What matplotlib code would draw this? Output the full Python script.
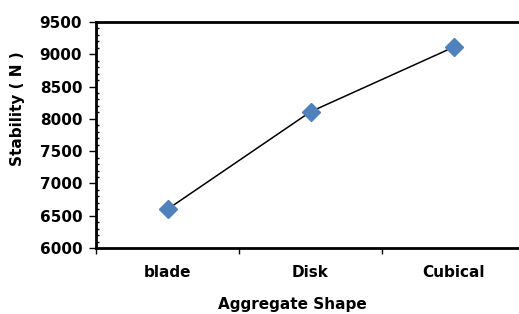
import matplotlib.pyplot as plt
from matplotlib.ticker import MultipleLocator

shapes = ["blade", "Disk", "Cubical"]
stability = [6600, 8110, 9110]
y_ticks = [6000, 6500, 7000, 7500, 8000, 8500, 9000, 9500]

plt.rcParams['font.family'] = ['DejaVu Sans']
plt.rcParams['font.weight'] = 'bold'

fig = plt.figure(figsize=(5.19, 3.14), dpi=100)
ax = fig.add_axes([0.185, 0.2102, 0.8266, 0.7197])

x = list(range(len(shapes)))
ax.plot(x, stability, color='black', linewidth=1.1, marker='D',
        markersize=9.5, markerfacecolor='#4F81BD', markeredgecolor='#4F81BD')

ax.set_xlim(-0.5, 2.5)
ax.set_ylim(6000, 9500)
ax.set_yticks(y_ticks)
ax.set_yticklabels([str(v) for v in y_ticks], fontsize=11, fontweight='bold')
ax.yaxis.set_minor_locator(MultipleLocator(100))
ax.set_xticks(x)
ax.set_xticklabels(shapes, fontsize=11, fontweight='bold')
ax.set_xticks([-0.5, 0.5, 1.5, 2.5], minor=True)

ax.tick_params(axis='x', which='major', length=0, pad=12)
ax.tick_params(axis='x', which='minor', direction='out', length=4, width=1)
ax.tick_params(axis='y', which='major', direction='out', length=5, width=1, pad=5)
ax.tick_params(axis='y', which='minor', direction='in', length=2.5, width=1)

for s in ax.spines.values():
    s.set_linewidth(2)
ax.spines['right'].set_visible(False)

ax.set_xlabel("Aggregate Shape", fontsize=11, fontweight='bold')
ax.set_ylabel("Stability ( N )", fontsize=11, fontweight='bold')
ax.xaxis.set_label_coords(0.457, -0.218)
ax.yaxis.set_label_coords(-0.166, 0.615)

fig.savefig("out.png", dpi=100)
plt.close()
